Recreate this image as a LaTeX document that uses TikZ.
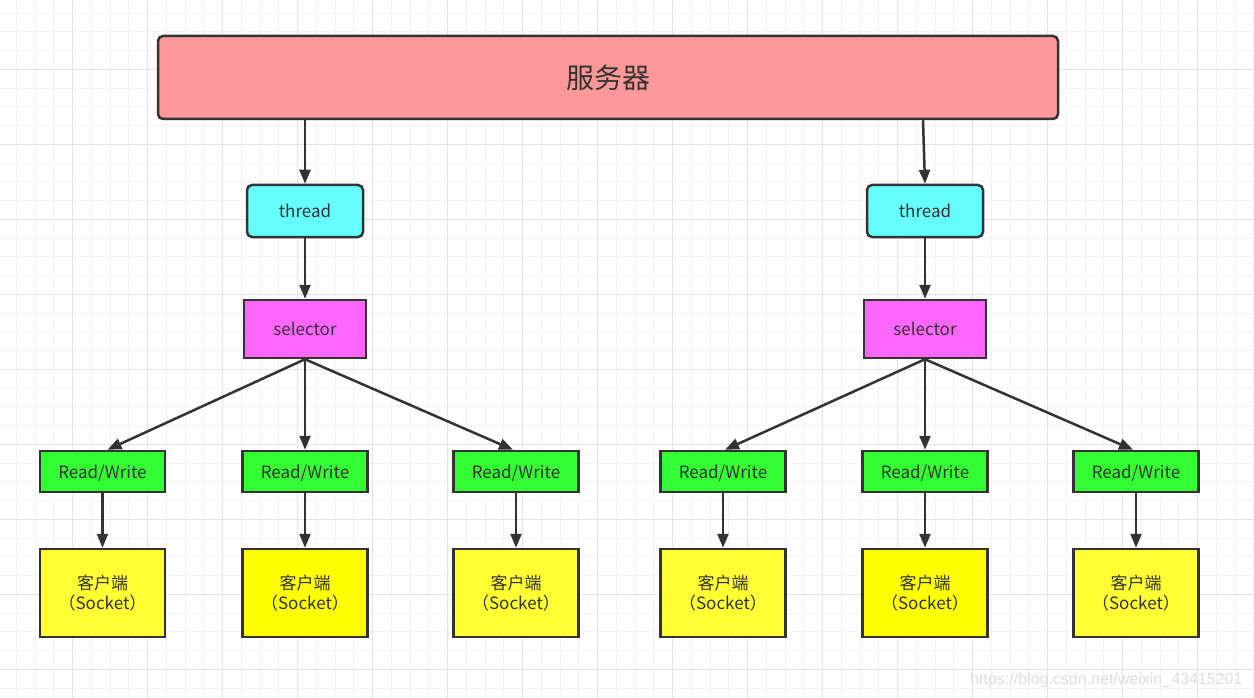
\documentclass[tikz,border=0pt]{standalone}
\usepackage{fontspec}
\setmainfont{Noto Sans CJK SC}
\newfontfamily\wmfont{Liberation Sans}
\usetikzlibrary{arrows.meta}
\definecolor{edge}{HTML}{333333}
\definecolor{serverfill}{HTML}{FF9999}
\definecolor{threadfill}{HTML}{66FFFF}
\definecolor{selfill}{HTML}{FF66FF}
\definecolor{rwfill}{HTML}{33FF33}
\definecolor{clientA}{HTML}{FFFF33}
\definecolor{clientB}{HTML}{FFFF00}
\definecolor{gridminor}{HTML}{F3F3F3}
\definecolor{gridmajor}{HTML}{E4E4E4}
\tikzset{
  base/.style={draw=edge, line width=2.5pt, inner sep=0pt, text=edge, font=\fontsize{17}{20}\selectfont, align=center},
  serverbox/.style={base, fill=serverfill, rounded corners=5pt, minimum width=900pt, minimum height=83pt, font=\fontsize{28}{32}\selectfont},
  threadbox/.style={base, fill=threadfill, rounded corners=5pt, minimum width=116pt, minimum height=52pt},
  selbox/.style={base, fill=selfill, minimum width=122pt, minimum height=58pt},
  rwbox/.style={base, fill=rwfill, minimum width=125pt, minimum height=41pt, text height=15pt, text depth=2pt},
  clientbox/.style={base, fill=clientA, minimum width=125pt, minimum height=88pt, font=\fontsize{17}{20}\selectfont},
  conn/.style={draw=edge, line width=2.5pt, -{Triangle[length=14pt, width=11pt]}},
}
\begin{document}
\begin{tikzpicture}[x=1pt, y=-1pt]
\useasboundingbox (0,0) rectangle (1254,698);
\fill[white] (0,0) rectangle (1254,698);
% grid
\foreach \i in {0,...,67} {
  \draw[gridminor, line width=1pt] ({-2.3+18.75*\i},0) -- ({-2.3+18.75*\i},698);
}
\foreach \i in {0,...,38} {
  \draw[gridminor, line width=1pt] (0,{-5.7+18.75*\i}) -- (1254,{-5.7+18.75*\i});
}
\foreach \i in {0,...,17} {
  \draw[gridmajor, line width=1pt] ({-2.3+75*\i},0) -- ({-2.3+75*\i},698);
}
\foreach \i in {0,...,10} {
  \draw[gridmajor, line width=1pt] (0,{-5.7+75*\i}) -- (1254,{-5.7+75*\i});
}
% nodes
\node[serverbox] (server) at (608,77.5) {服务器};
\node[threadbox] (thA) at (305,211) {thread};
\node[threadbox] (thB) at (925,211) {thread};
\node[selbox] (selA) at (305,329) {selector};
\node[selbox] (selB) at (925,329) {selector};
\node[rwbox] (rw1) at (102.5,471.5) {Read/Write};
\node[rwbox] (rw2) at (305,471.5) {Read/Write};
\node[rwbox] (rw3) at (516,471.5) {Read/Write};
\node[rwbox] (rw4) at (723,471.5) {Read/Write};
\node[rwbox] (rw5) at (925,471.5) {Read/Write};
\node[rwbox] (rw6) at (1136,471.5) {Read/Write};
\node[clientbox] (cl1) at (102.5,593) {客户端\\（Socket）};
\node[clientbox, fill=clientB] (cl2) at (305,593) {客户端\\（Socket）};
\node[clientbox] (cl3) at (516,593) {客户端\\（Socket）};
\node[clientbox] (cl4) at (723,593) {客户端\\（Socket）};
\node[clientbox, fill=clientB] (cl5) at (925,593) {客户端\\（Socket）};
\node[clientbox] (cl6) at (1136,593) {客户端\\（Socket）};
% connectors
\draw[conn] (server.south -| thA.north) -- (thA.north);
\draw[conn] ([xshift=-2pt]server.south -| thB.north) -- (thB.north);
\draw[conn] (thA) -- (selA);
\draw[conn] (thB) -- (selB);
\draw[conn] (selA.south) -- ([xshift=5pt]rw1.north);
\draw[conn] (selA.south) -- (rw2.north);
\draw[conn] (selA.south) -- ([xshift=-3pt]rw3.north);
\draw[conn] (selB.south) -- ([xshift=2pt]rw4.north);
\draw[conn] (selB.south) -- (rw5.north);
\draw[conn] (selB.south) -- ([xshift=-3pt]rw6.north);
\foreach \k in {1,...,6} {
  \draw[conn] (rw\k) -- (cl\k);
}
% watermark
\node[text=black!13, font=\wmfont\fontsize{16}{20}\selectfont, anchor=east] (wm) at (1246,680) {https://blog.csdn.net/weixin\_43415201};
\end{tikzpicture}
\end{document}
